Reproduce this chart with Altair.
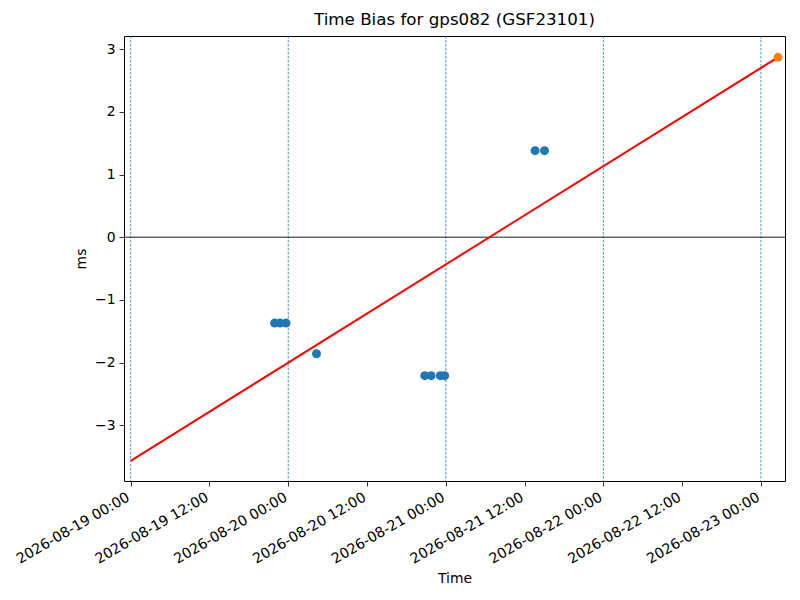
import altair as alt
import pandas as pd

title_text = "Time Bias for gps082 (GSF23101)"

# Observed time-bias samples (blue)
blue_times = [
    "2026-08-19T21:55", "2026-08-19T22:45", "2026-08-19T23:40",
    "2026-08-20T04:18",
    "2026-08-20T20:48", "2026-08-20T21:46", "2026-08-20T23:10", "2026-08-20T23:50",
    "2026-08-21T13:36", "2026-08-21T15:02",
]
blue_vals = [-1.37, -1.37, -1.37, -1.86, -2.21, -2.21, -2.21, -2.21, 1.38, 1.38]

# Fitted trend (red) and predicted point (orange)
fit_times = ["2026-08-19T00:00", "2026-08-23T02:36"]
fit_vals = [-3.57, 2.87]
pred_times = ["2026-08-23T02:36"]
pred_vals = [2.87]

# Day boundaries (dashed verticals)
day_lines = ["2026-08-19T00:00", "2026-08-20T00:00", "2026-08-21T00:00",
             "2026-08-22T00:00", "2026-08-23T00:00"]

tick_hours = [(19, 0), (19, 12), (20, 0), (20, 12), (21, 0), (21, 12), (22, 0), (22, 12), (23, 0)]
y_ticks = [-3, -2, -1, 0, 1, 2, 3]

blue_df = pd.DataFrame({"t": blue_times, "v": blue_vals})
fit_df = pd.DataFrame({"t": fit_times, "v": fit_vals})
pred_df = pd.DataFrame({"t": pred_times, "v": pred_vals})
day_df = pd.DataFrame({"t": day_lines})
zero_df = pd.DataFrame({"v": [0]})

xscale = alt.Scale(domain=[alt.DateTime(year=2026, month=8, date=18, hours=22, minutes=59),
                           alt.DateTime(year=2026, month=8, date=23, hours=3, minutes=40)])
yscale = alt.Scale(domain=[-3.89, 3.21], nice=False, zero=False)

xaxis = alt.Axis(values=[alt.DateTime(year=2026, month=8, date=d, hours=h) for d, h in tick_hours],
                 format="%Y-%m-%d %H:%M", labelAngle=-30, labelAlign="right",
                 labelBaseline="top", labelOverlap=False, labelBound=False,
                 labelOffset=-6, labelFontSize=14.2, titlePadding=5,
                 title="Time", grid=False)
yaxis = alt.Axis(values=y_ticks, format="d", title="ms", titlePadding=6, grid=False)

X = alt.X("t:T", scale=xscale, axis=xaxis)
Y = alt.Y("v:Q", scale=yscale, axis=yaxis)

days = alt.Chart(day_df).mark_rule(color="#1f77b4", strokeDash=[2.5, 1.5], strokeWidth=0.8).encode(x=X)
zero = alt.Chart(zero_df).mark_rule(color="black", strokeWidth=0.9, opacity=1).encode(y=Y)
fit = alt.Chart(fit_df).mark_line(color="red", strokeWidth=2).encode(x=X, y=Y)
blue = alt.Chart(blue_df).mark_circle(color="#1f77b4", size=80, opacity=1).encode(x=X, y=Y)
pred = alt.Chart(pred_df).mark_circle(color="#ff7f0e", size=80, opacity=1).encode(x=X, y=Y)

chart = alt.layer(days, zero, fit, blue, pred).properties(
    width=661, height=445,
    title=alt.TitleParams(title_text, font="DejaVu Sans", fontSize=16.7, fontWeight="normal",
                          color="black", anchor="middle", offset=7),
    autosize=alt.AutoSizeParams(type="none"),
    padding={"left": 116, "top": 28, "right": 7, "bottom": 110},
).configure_view(
    stroke="black", strokeWidth=1
).configure_axis(
    domain=False, tickColor="black", tickSize=5, tickWidth=0.8,
    labelFont="DejaVu Sans", labelFontSize=13.9, labelColor="black", labelPadding=4,
    titleFont="DejaVu Sans", titleFontSize=13.9, titleFontWeight="normal", titleColor="black",
)

chart.save("out.html", embed_options={"renderer": "svg", "actions": False})
